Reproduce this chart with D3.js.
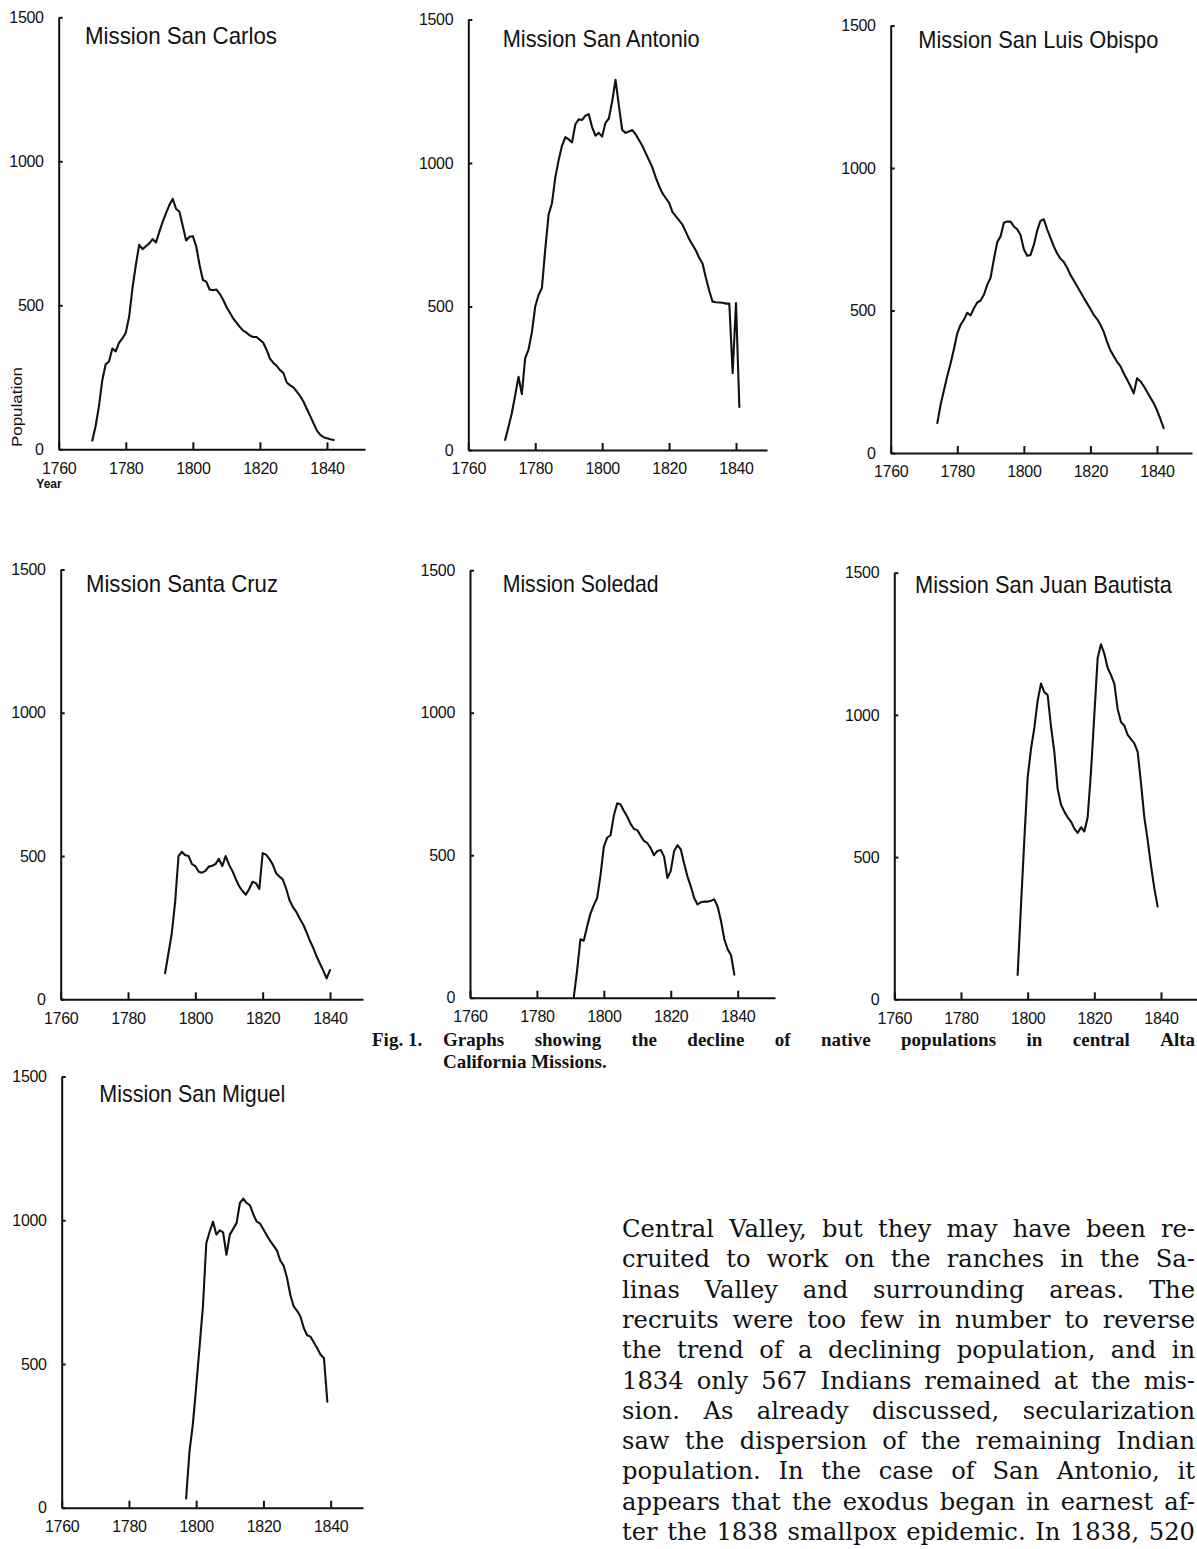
<!DOCTYPE html>
<html>
<head>
<meta charset="utf-8">
<script src="https://cdn.jsdelivr.net/npm/d3@7/dist/d3.min.js"></script>
<style>
  html, body { margin: 0; padding: 0; background: #fff; }
  svg { display: block; }
</style>
</head>
<body>
<svg id="fig" width="1197" height="1549"></svg>
<script>
// ---------------- DATA ----------------
const missionNames = [
  "Mission San Carlos", "Mission San Antonio", "Mission San Luis Obispo",
  "Mission Santa Cruz", "Mission Soledad", "Mission San Juan Bautista",
  "Mission San Miguel"
];
const xTickYears = [1760, 1780, 1800, 1820, 1840];
const yTickValues = [0, 500, 1000, 1500];

const sanCarlosStart = 1770;
const sanCarlosPop = [30, 80, 150, 240, 295, 305, 350, 340, 370, 385,
  405, 460, 560, 640, 710, 695, 705, 715, 730, 718,
  755, 790, 820, 848, 870, 835, 825, 775, 725, 738,
  740, 705, 640, 588, 582, 555, 552, 555, 540, 520,
  495, 475, 455, 440, 425, 412, 405, 395, 390, 390,
  380, 370, 345, 315, 300, 290, 275, 265, 232, 222,
  215, 200, 185, 165, 140, 115, 90, 65, 50, 42,
  38, 35, 32];

const sanAntonioStart = 1771;
const sanAntonioPop = [35, 80, 128, 190, 255, 195, 320, 350, 410,
  500, 540, 565, 700, 820, 860, 950, 1010, 1060, 1090,
  1082, 1072, 1135, 1152, 1150, 1165, 1170, 1125, 1095, 1105,
  1092, 1140, 1155, 1215, 1290, 1200, 1115, 1105, 1110, 1115,
  1100, 1080, 1060, 1035, 1010, 985, 950, 920, 895, 878,
  862, 830, 815, 800, 785, 760, 735, 715, 695, 670,
  650, 600, 555, 517, 515, 514, 513, 510, 510, 268,
  512, 150];

const sanLuisObispoStart = 1774;
const sanLuisObispoPop = [105, 170, 220, 270, 315, 365,
  420, 450, 468, 492, 483, 508, 528, 535, 555, 590,
  615, 680, 740, 760, 808, 812, 812, 795, 785, 765,
  715, 692, 695, 730, 780, 815, 820, 785, 755, 725,
  700, 682, 670, 650, 625, 605, 585, 565, 545, 525,
  505, 485, 470, 450, 425, 390, 360, 340, 320, 305,
  280, 258, 235, 209, 262, 252, 235, 215, 195, 175,
  150, 120, 87];

const santaCruzStart = 1791;
const santaCruzPop = [91, 160, 230, 340, 500, 515, 503, 500, 472,
  465, 445, 442, 448, 463, 466, 472, 490, 465, 500,
  470, 448, 420, 395, 378, 365, 385, 410, 405, 385,
  510, 505, 490, 470, 440, 428, 418, 385, 345, 322,
  305, 282, 262, 235, 205, 180, 150, 125, 100, 73,
  102];

const soledadStart = 1791;
const soledadPop = [0, 95, 205, 200, 250, 295, 325, 350, 430,
  530, 562, 570, 640, 682, 678, 655, 635, 610, 592,
  588, 568, 550, 542, 525, 500, 515, 518, 495, 420,
  445, 515, 535, 520, 470, 425, 390, 350, 327, 335,
  337, 337, 340, 345, 320, 270, 205, 170, 150, 81];

const sanJuanBautistaStart = 1797;
const sanJuanBautistaPop = [86, 330, 560,
  780, 880, 954, 1050, 1110, 1080, 1070, 960, 870, 740,
  685, 660, 640, 625, 600, 585, 605, 590, 640, 800,
  1000, 1200, 1248, 1215, 1165, 1140, 1110, 1020, 975, 962,
  930, 915, 900, 870, 760, 640, 560, 470, 390, 326];

const sanMiguelStart = 1797;
const sanMiguelPop = [32, 195, 290,
  420, 560, 700, 920, 960, 995, 950, 965, 958, 880,
  950, 970, 990, 1060, 1075, 1060, 1052, 1020, 995, 988,
  968, 948, 928, 912, 895, 860, 842, 800, 740, 700,
  685, 665, 625, 600, 595, 575, 555, 532, 520, 369];

const seriesStarts = [sanCarlosStart, sanAntonioStart, sanLuisObispoStart,
  santaCruzStart, soledadStart, sanJuanBautistaStart, sanMiguelStart];
const seriesValues = [sanCarlosPop, sanAntonioPop, sanLuisObispoPop,
  santaCruzPop, soledadPop, sanJuanBautistaPop, sanMiguelPop];

const captionLabel = "Fig. 1.";
const captionLine1 = "Graphs showing the decline of native populations in central Alta";
const captionLine2 = "California Missions.";
const bodyLines = [
  "Central Valley, but they may have been re-",
  "cruited to work on the ranches in the Sa-",
  "linas Valley and surrounding areas. The",
  "recruits were too few in number to reverse",
  "the trend of a declining population, and in",
  "1834 only 567 Indians remained at the mis-",
  "sion. As already discussed, secularization",
  "saw the dispersion of the remaining Indian",
  "population. In the case of San Antonio, it",
  "appears that the exodus began in earnest af-",
  "ter the 1838 smallpox epidemic. In 1838, 520"
];

// ---------------- LAYOUT ----------------
const layout = [
  {ax: 58.7, x1840: 327.0, xEnd: 365, y0: 449.3, y1500: 17.3, title: [85, 43.5, 192]},
  {ax: 468.3, x1840: 736.0, xEnd: 767, y0: 450.0, y1500: 19.5, title: [502.7, 46.5, 197]},
  {ax: 890.7, x1840: 1157.0, xEnd: 1192, y0: 453.0, y1500: 25.5, title: [918.3, 48.3, 240]},
  {ax: 60.7, x1840: 330.0, xEnd: 363, y0: 999.3, y1500: 569.5, title: [86, 591.7, 192]},
  {ax: 470.0, x1840: 737.7, xEnd: 775, y0: 997.7, y1500: 570.2, title: [502.7, 591.7, 156]},
  {ax: 894.3, x1840: 1161.0, xEnd: 1197, y0: 999.3, y1500: 572.7, title: [915, 592.7, 257]},
  {ax: 61.7, x1840: 330.7, xEnd: 363, y0: 1507.7, y1500: 1076.5, title: [99.3, 1101.7, 186]}
];

const INK = "#111";
const SANS = "'Liberation Sans', Arial, Helvetica, sans-serif";
const svg = d3.select("#fig");

layout.forEach((L, i) => {
  const endYear = 1760 + 80 * (L.xEnd - L.ax) / (L.x1840 - L.ax);
  const x = d3.scaleLinear().domain([1760, endYear]).range([L.ax, L.xEnd]);
  const y = d3.scaleLinear().domain([0, 1500]).range([L.y0, L.y1500]);
  const g = svg.append("g");

  const xAxis = d3.axisBottom(x).tickValues(xTickYears).tickFormat(d3.format("d"))
    .tickSizeInner(-7).tickSizeOuter(0).tickPadding(13);
  const gx = g.append("g").attr("transform", `translate(0,${L.y0})`).call(xAxis);

  const yAxis = d3.axisLeft(y).tickValues(yTickValues).tickFormat(d3.format("d"))
    .tickSizeInner(-4).tickSizeOuter(0).tickPadding(15);
  const gy = g.append("g").attr("transform", `translate(${L.ax},0)`).call(yAxis);

  [gx, gy].forEach(a => {
    a.select(".domain").attr("stroke", INK).attr("stroke-width", 2);
    a.selectAll(".tick line").attr("stroke", INK).attr("stroke-width", 2);
    a.selectAll(".tick text").attr("fill", INK)
      .style("font-family", SANS).style("font-size", "16px")
      .style("letter-spacing", "-0.3px");
  });

  const start = seriesStarts[i];
  const pts = seriesValues[i].map((v, k) => [start + k, v]);
  g.append("path")
    .datum(pts)
    .attr("fill", "none")
    .attr("stroke", INK)
    .attr("stroke-width", 2.1)
    .attr("stroke-linejoin", "round")
    .attr("stroke-linecap", "round")
    .attr("d", d3.line().x(d => x(d[0])).y(d => y(d[1])));

  g.append("text")
    .attr("x", L.title[0]).attr("y", L.title[1])
    .attr("textLength", L.title[2]).attr("lengthAdjust", "spacingAndGlyphs")
    .attr("fill", INK)
    .style("font-family", SANS).style("font-size", "24px")
    .text(missionNames[i]);

  if (i === 0) {
    g.append("text")
      .attr("transform", `translate(22,407) rotate(-90)`)
      .attr("text-anchor", "middle")
      .attr("textLength", 80).attr("lengthAdjust", "spacingAndGlyphs")
      .attr("fill", INK)
      .style("font-family", SANS).style("font-size", "14px")
      .text("Population");
    g.append("text")
      .attr("x", 49).attr("y", L.y0 + 39)
      .attr("text-anchor", "middle")
      .attr("fill", INK)
      .style("font-family", SANS).style("font-size", "12px").style("font-weight", "bold")
      .text("Year");
  }
});

// ---------------- TEXT (caption + body) ----------------
function measure(parent, str, style) {
  const t = parent.append("text").attr("style", style).text(str);
  const w = t.node().getComputedTextLength();
  t.remove();
  return w;
}
function justify(parent, text, x0, width, baseline, style, justifyIt) {
  const words = text.split(/\s+/);
  const widths = words.map(w => measure(parent, w, style));
  const space = measure(parent, "a a", style) - measure(parent, "aa", style);
  const total = d3.sum(widths);
  const gap = (justifyIt && words.length > 1) ? (width - total) / (words.length - 1) : space;
  let cx = x0;
  words.forEach((w, k) => {
    parent.append("text").attr("x", cx).attr("y", baseline)
      .attr("style", style).attr("fill", INK).text(w);
    cx += widths[k] + gap;
  });
}

const capStyle = "font-family:'Liberation Serif','Times New Roman',serif;font-size:19px;font-weight:bold;";
const capG = svg.append("g");
capG.append("text").attr("x", 372).attr("y", 1046).attr("style", capStyle).attr("fill", INK).text(captionLabel);
justify(capG, captionLine1, 443, 752, 1046, capStyle, true);
justify(capG, captionLine2, 443, 752, 1068, capStyle, false);

// body font size fitted so the widest line, set with normal spaces, fills the column
const bodyG = svg.append("g");
const baseStyle = "font-family:'DejaVu Serif',serif;font-size:20px;";
const maxNatural = d3.max(bodyLines, l => measure(bodyG, l, baseStyle));
const bodySize = Math.min(26, 20 * 560 / maxNatural);
const bodyStyle = `font-family:'DejaVu Serif',serif;font-size:${bodySize.toFixed(2)}px;`;
bodyLines.forEach((line, k) => {
  justify(bodyG, line, 622, 573, 1237 + k * 30.3, bodyStyle, true);
});
</script>
</body>
</html>
